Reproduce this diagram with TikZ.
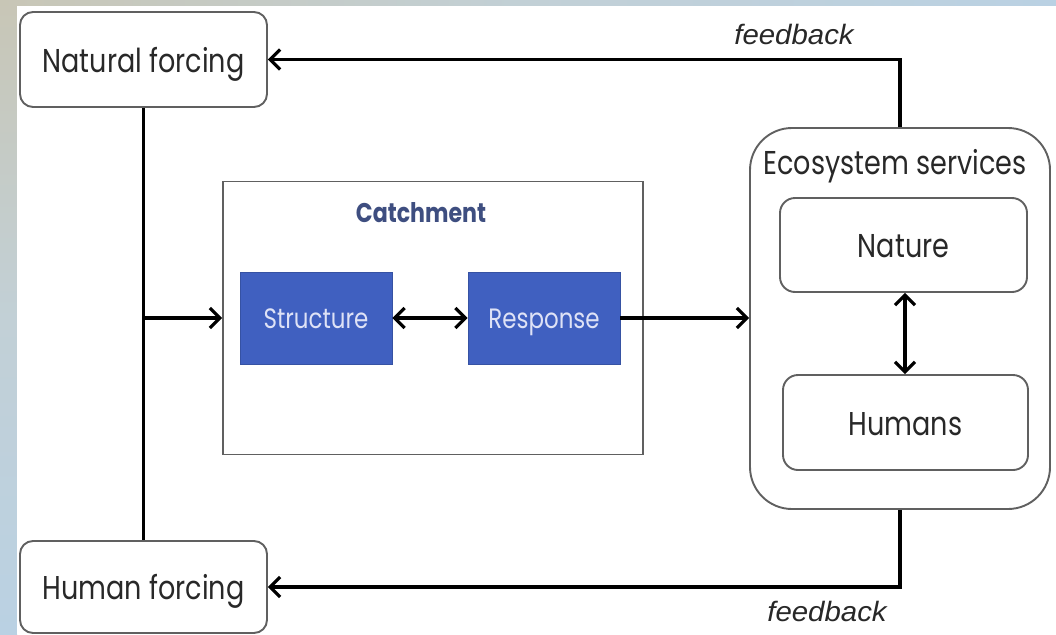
\documentclass[tikz,border=0pt]{standalone}
\usepackage{fontspec}
\setmainfont[FakeStretch=0.82]{Poppins}
\newfontfamily\fbfont[FakeStretch=1.05]{Liberation Sans}
\usetikzlibrary{arrows.meta}
\definecolor{boxblue}{RGB}{64,96,192}
\definecolor{boxtext}{RGB}{222,226,246}
\definecolor{catchtext}{RGB}{62,78,128}
\definecolor{edge}{RGB}{96,96,96}
\definecolor{txt}{RGB}{40,40,40}
\definecolor{bgA}{RGB}{200,198,182}
\definecolor{bgB}{RGB}{194,208,214}
\definecolor{bgC}{RGB}{186,209,227}
\begin{document}
\begin{tikzpicture}[x=1pt,y=-1pt,
  rbox/.style={draw=edge, line width=1.9pt, rounded corners=13pt, fill=white, text=txt,
    font=\fontsize{33}{36}\selectfont, inner sep=0pt, text height=30pt, text depth=5pt},
  bluebox/.style={fill=boxblue, draw=boxblue!85!black, line width=0.8pt, text=boxtext,
    minimum width=152pt, minimum height=92pt, inner sep=0pt,
    font=\fontsize{28}{30}\selectfont, text height=25pt, text depth=5pt},
  tip/.tip={Straight Barb[length=10pt,width=20pt,line width=3.2pt]},
  arr/.style={line width=3.2pt, -tip},
  darr/.style={line width=3.2pt, tip-tip},
  plain/.style={line width=3.2pt},
  fb/.style={font=\fbfont\itshape\fontsize{28}{30}\selectfont, text=txt, anchor=base}
]
\useasboundingbox (0,0) rectangle (1056,634);
% background texture approximation
\shade[top color=bgA, bottom color=bgC, middle color=bgB] (0,0) rectangle (17,634);
\shade[left color=bgA, right color=bgC, middle color=bgB] (0,0) rectangle (1056,6);
\fill[white] (17,6) rectangle (1056,634);

% nodes
\node[rbox, minimum width=247pt, minimum height=95pt] (nat) at (143.5,59.5) {Natural forcing};
\node[rbox, minimum width=247pt, minimum height=92pt] (hum) at (143.5,587) {Human forcing};

\node[draw=edge, line width=1.9pt, fill=white, minimum width=420pt, minimum height=273pt] (cat) at (433,318) {};
\node[font=\bfseries\fontsize{27}{30}\selectfont, text=catchtext] (catl) at (421,213) {Catchment};
\node[bluebox] (str) at (316,318) {Structure};
\node[bluebox] (res) at (544,318) {Response};

\node[rbox, rounded corners=42pt, minimum width=300pt, minimum height=381pt] (eco) at (900,318.5) {};
\node[text=txt, font=\fontsize{33}{36}\selectfont, anchor=base] (ecol) at (895,174) {Ecosystem services};
\node[rbox, rounded corners=15pt, minimum width=247pt, minimum height=94pt] (ntr) at (903.5,245) {Nature};
\node[rbox, rounded corners=15pt, minimum width=245pt, minimum height=95pt] (hmn) at (905.5,422.5) {Humans};

% connectors
\draw[plain] (nat.south) -- (hum.north);
\coordinate (junc) at (nat.south |- cat.west);
\draw[arr] (junc) -- (cat.west);
\draw[darr] (str.east) -- (res.west);
\draw[arr] (res.east) -- (eco.west |- res.east);
\draw[darr] (ntr.south -| 905,0) -- (hmn.north -| 905,0);
\draw[arr] (eco.north) |- (nat.east);
\draw[arr] (eco.south) |- (hum.east);

% labels
\node[fb] (fbt) at (794,45) {feedback};
\node[fb] (fbb) at (827,621) {feedback};
\end{tikzpicture}
\end{document}
